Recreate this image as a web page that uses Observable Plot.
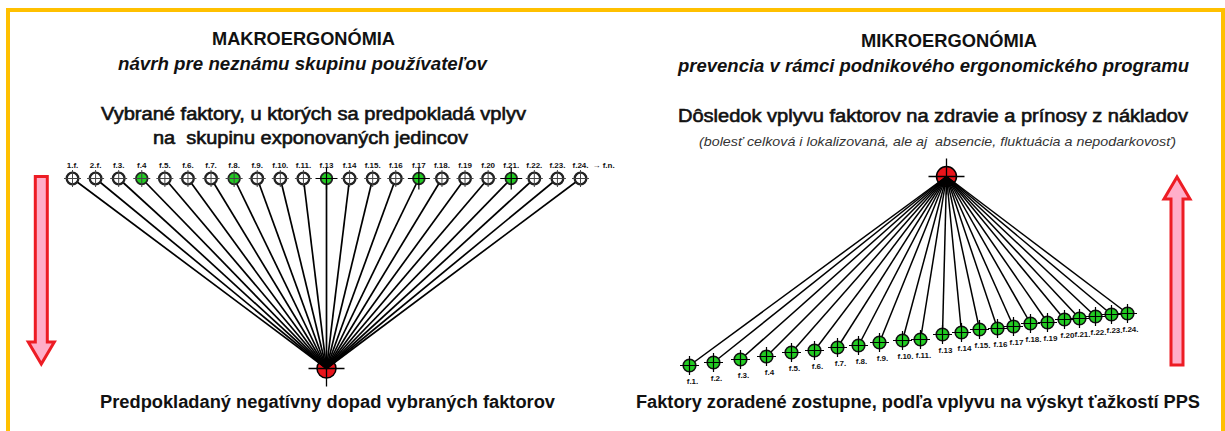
<!DOCTYPE html>
<html>
<head>
<meta charset="utf-8">
<script src="https://cdn.jsdelivr.net/npm/d3@7"></script>
<script src="https://cdn.jsdelivr.net/npm/@observablehq/plot@0.6"></script>
<style>
  html, body { margin: 0; padding: 0; background: #fff; }
  #wrap { position: relative; width: 1225px; height: 431px; overflow: hidden; background: #fff; }
  #frame { position: absolute; left: 6px; top: 8px; width: 1211px; height: 460px; border: 4px solid #FFC000; border-bottom: none; box-sizing: content-box; }
  #wrap svg { position: absolute; left: 0; top: 0; }
</style>
</head>
<body>
<div id="wrap"><div id="frame"></div></div>
<script>
// ---------------- DATA ----------------
// Makroergonómia: vybrané faktory (f.12 v pôvodnom obrázku chýba)
const makroFaktory = ["1.f.","2.f.","f.3.","f.4","f.5.","f.6.","f.7.","f.8.","f.9.","f.10.","f.11.","f.13","f.14","f.15.","f.16","f.17","f.18.","f.19","f.20","f.21.","f.22.","f.23.","f.24."];
// 0 = bez zvýraznenia, 1 = zvýraznený (zelený), 2 = zvýraznený s výrazným krížom
const makroVyber = [0,0,0,1,0,0,0,1,0,0,0,2,0,0,0,2,0,0,0,2,0,0,0];
const makroPokracovanie = "\u2192 f.n.";

// Mikroergonómia: faktory zoradené zostupne podľa vplyvu
const mikroFaktory = ["f.1.","f.2.","f.3.","f.4","f.5.","f.6.","f.7.","f.8.","f.9.","f.10.","f.11.","f.13","f.14","f.15.","f.16","f.17","f.18.","f.19","f.20","f.21.","f.22.","f.23.","f.24."];
const mikroPoradie = [0,24,51,77,102,125,148,169,190,213,231,253,272,290,308,324,341,358,375,390,406,422,438];
const mikroVplyv   = [0,3,6,9,13,15,18,20,23,25,26,31,33,36,37,39,42,43,46,47,49,51,52];
const mikroDosledokPoradie = 257;
const mikroDosledokVplyv = 189;

// Texty
const makroTexty = [
  "MAKROERGONÓMIA",
  "návrh pre neznámu skupinu používateľov",
  "Vybrané faktory, u ktorých sa predpokladá vplyv",
  "na  skupinu exponovaných jedincov",
  "Predpokladaný negatívny dopad vybraných faktorov"
];
const mikroTexty = [
  "MIKROERGONÓMIA",
  "prevencia v rámci podnikového ergonomického programu",
  "Dôsledok vplyvu faktorov na zdravie a prínosy z nákladov",
  "(bolesť celková i lokalizovaná, ale aj  absencie, fluktuácia a nepodarkovosť)",
  "Faktory zoradené zostupne, podľa vplyvu na výskyt ťažkostí PPS"
];

// ---------------- LAYOUT / STYLE ----------------
const W = 1225, H = 431;
const FONT = "'Liberation Sans', Arial, sans-serif";
const GREEN = "#22cc22", RED = "#e8141b";
const ARROW_FILL = "#ffaec9", ARROW_STROKE = "#ed1c24";

const textStyles = [
  {size: 18.5, weight: "bold", style: "normal"},
  {size: 18, weight: "bold", style: "italic"},
  {size: 18, weight: "normal", style: "normal", heavy: 0.6},
  {size: 18, weight: "normal", style: "normal", heavy: 0.6},
  {size: 18, weight: "bold", style: "normal"}
];
const makroTextPos = [
  {cx: 303.5, y: 45, w: 183},
  {cx: 302.5, y: 70, w: 369},
  {cx: 313.5, y: 120, w: 425},
  {cx: 310.5, y: 144, w: 315},
  {cx: 327.5, y: 407.5, w: 455}
];
const mikroTextPos = [
  {cx: 949, y: 46.5, w: 176},
  {cx: 933.5, y: 72, w: 511},
  {cx: 933, y: 122, w: 510},
  {cx: 937.5, y: 146, w: 477},
  {cx: 918, y: 407.5, w: 564}
];
const mikroTextStyleOverride = {3: {size: 13.5, weight: "normal", style: "italic", heavy: 0, fill: "#333"}};

// thin crosshair symbol for Plot.dot
const crossSymbol = {
  draw(ctx, size) {
    const r = Math.sqrt(size / Math.PI);
    ctx.moveTo(-r, 0); ctx.lineTo(r, 0);
    ctx.moveTo(0, -r); ctx.lineTo(0, r);
  }
};

// block arrow as a Plot render-function mark, placed with the y scale
function blockArrow(px, fromVal, toVal, fromOff, toOff) {
  return (index, scales) => {
    const ys = scales.y;
    const yT = ys(fromVal) + fromOff, yP = ys(toVal) + toOff;
    const s = Math.sign(yP - yT);
    const w = 6, hw = 13, hl = 22;
    const yb = yP - s * hl;
    const pts = [[px - w, yT], [px + w, yT], [px + w, yb], [px + hw, yb], [px, yP], [px - hw, yb], [px - w, yb]];
    const path = d3.create("svg:path")
      .attr("d", "M" + pts.map(p => p.join(",")).join("L") + "Z")
      .attr("fill", ARROW_FILL)
      .attr("stroke", ARROW_STROKE)
      .attr("stroke-width", 3)
      .attr("stroke-linejoin", "miter");
    return path.node();
  };
}

// ---------------- LEFT: MAKROERGONÓMIA ----------------
const makroRows = makroFaktory.map((f, i) => ({f, i, vyber: makroVyber[i], u: 1}));
const stred = (makroFaktory.length - 1) / 2;
const makroCiel = [{i: stred, u: 0}];

const left = Plot.plot({
  width: W, height: H, margin: 0,
  x: {type: "linear", domain: [0, makroFaktory.length - 1], range: [72, 580], axis: null},
  y: {type: "linear", domain: [1, 0], range: [178, 368], axis: null},
  style: {background: "transparent", overflow: "visible"},
  marks: [
    blockArrow(41.3, 1, 0, -1.5, -4),
    Plot.dot(makroCiel, {x: "i", y: "u", r: 9.5, fill: RED, stroke: "#000", strokeWidth: 1.5}),
    Plot.link(makroRows, {x1: "i", y1: "u", x2: () => stred, y2: () => 0, stroke: "#000", strokeWidth: 1.7}),
    Plot.dot(makroCiel, {x: "i", y: "u", r: 18, symbol: crossSymbol, fill: "none", stroke: "#000", strokeWidth: 1.3}),
    Plot.dot(makroRows, {filter: d => d.vyber === 0, x: "i", y: "u", r: 5.8, fill: "#fff", stroke: "#222", strokeWidth: 2.3}),
    Plot.dot(makroRows, {filter: d => d.vyber > 0, x: "i", y: "u", r: 5.8, fill: GREEN, stroke: "#222", strokeWidth: 1.8}),
    Plot.dot(makroRows, {filter: d => d.vyber < 2, x: "i", y: "u", r: 8.5, symbol: crossSymbol, fill: "none", stroke: "#444", strokeWidth: 1}),
    Plot.dot(makroRows, {filter: d => d.vyber === 2, x: "i", y: "u", r: 11, symbol: crossSymbol, fill: "none", stroke: "#000", strokeWidth: 1.2}),
    Plot.text(makroRows, {x: "i", y: "u", text: "f", dy: -13, fontSize: 8, fontWeight: "bold", fontFamily: FONT, fill: "#111"}),
    Plot.text([makroPokracovanie], {x: () => makroFaktory.length, y: () => 1, text: d => d, dy: -13, fontSize: 8, fontWeight: "bold", fontFamily: FONT, fill: "#111"})
  ]
});

// ---------------- RIGHT: MIKROERGONÓMIA ----------------
const mikroRows = mikroFaktory.map((f, i) => ({f, p: mikroPoradie[i], v: mikroVplyv[i]}));
const mikroCiel = [{p: mikroDosledokPoradie, v: mikroDosledokVplyv}];

const right = Plot.plot({
  width: W, height: H, margin: 0,
  x: {type: "linear", domain: [0, d3.max(mikroPoradie)], range: [689, 1127], axis: null},
  y: {type: "linear", domain: [0, mikroDosledokVplyv], range: [365, 176], axis: null},
  style: {background: "transparent", overflow: "visible"},
  marks: [
    blockArrow(1177, 0, mikroDosledokVplyv, 0, 1),
    Plot.dot(mikroCiel, {x: "p", y: "v", r: 10, fill: RED, stroke: "#000", strokeWidth: 1.5}),
    Plot.link(mikroRows, {x1: "p", y1: "v", x2: () => mikroDosledokPoradie, y2: () => mikroDosledokVplyv, stroke: "#000", strokeWidth: 1.5}),
    Plot.dot(mikroCiel, {x: "p", y: "v", r: 18, symbol: crossSymbol, fill: "none", stroke: "#000", strokeWidth: 1.3}),
    Plot.dot(mikroRows, {x: "p", y: "v", r: 6.3, fill: GREEN, stroke: "#111", strokeWidth: 1.6}),
    Plot.dot(mikroRows, {x: "p", y: "v", r: 9.5, symbol: crossSymbol, fill: "none", stroke: "#000", strokeWidth: 1.2}),
    Plot.text(mikroRows, {x: "p", y: "v", text: "f", dy: 16, dx: 3, fontSize: 8, fontWeight: "bold", fontFamily: FONT, fill: "#111"})
  ]
});

const wrap = document.getElementById("wrap");
wrap.appendChild(left);
wrap.appendChild(right);

// ---------------- TITLES (text overlay) ----------------
const overlay = d3.select(wrap).append("svg")
  .attr("width", W).attr("height", H)
  .style("overflow", "visible");

function drawTexts(texts, pos, override) {
  texts.forEach((t, k) => {
    const st = Object.assign({}, textStyles[k], (override || {})[k] || {});
    const p = pos[k];
    const el = overlay.append("text")
      .attr("x", p.cx).attr("y", p.y)
      .attr("text-anchor", "middle")
      .attr("font-family", FONT)
      .attr("font-size", st.size)
      .attr("font-weight", st.weight)
      .attr("font-style", st.style)
      .attr("fill", st.fill || "#111")
      .attr("textLength", p.w)
      .attr("lengthAdjust", "spacingAndGlyphs")
      .style("white-space", "pre")
      .text(t);
    if (st.heavy) el.attr("stroke", "#111").attr("stroke-width", st.heavy);
  });
}
drawTexts(makroTexty, makroTextPos);
drawTexts(mikroTexty, mikroTextPos, mikroTextStyleOverride);
</script>
</body>
</html>
